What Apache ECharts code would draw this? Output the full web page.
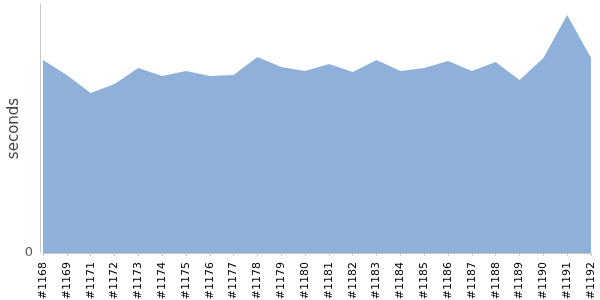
<!DOCTYPE html>
<html>
<head>
<meta charset="utf-8">
<script src="https://cdn.jsdelivr.net/npm/echarts@6/dist/echarts.min.js"></script>
<style>html,body{margin:0;padding:0;background:#fff;}#c{width:600px;height:300px;}</style>
</head>
<body>
<div id="c"></div>
<script>
const categories = ['#1168','#1169','#1171','#1172','#1173','#1174','#1175','#1176','#1177','#1178','#1179','#1180','#1181','#1182','#1183','#1184','#1185','#1186','#1187','#1188','#1189','#1190','#1191','#1192'];
const seconds = [193,178,160,169,185,177,182,177,178,196,186,182,189,181,193,182,185,192,182,191,173,195,238,195];
const yTicks = [0];

const chart = echarts.init(document.getElementById('c'), null, {renderer:'canvas'});
chart.setOption({
  animation: false,
  grid: {left: 43, right: 9, top: 4, bottom: 47, containLabel: false, outerBoundsMode: 'none'},
  xAxis: {
    type: 'category',
    data: categories,
    boundaryGap: false,
    offset: 3,
    axisLine: {lineStyle: {color: '#c8c8c8'}},
    axisTick: {show: true, length: 3, alignWithLabel: true, lineStyle: {color: '#c8c8c8'}},
    axisLabel: {interval: 0, rotate: 90, margin: 6, fontSize: 11, color: '#000', fontFamily: 'DejaVu Sans'},
    splitLine: {show: false}
  },
  yAxis: {
    type: 'value',
    min: 0,
    max: 249,
    interval: 249,
    offset: 3,
    name: 'seconds',
    nameLocation: 'middle',
    nameGap: 18,
    nameMoveOverlap: false,
    nameTextStyle: {fontSize: 15, color: '#444', fontFamily: 'DejaVu Sans'},
    axisLine: {show: true, lineStyle: {color: '#c8c8c8'}},
    axisTick: {show: false},
    splitLine: {show: false},
    axisLabel: {
      margin: 7, fontSize: 13, color: '#555', fontFamily: 'DejaVu Sans',
      formatter: v => yTicks.indexOf(v) >= 0 ? String(v) : ''
    }
  },
  series: [{
    type: 'line',
    data: seconds,
    symbol: 'none',
    lineStyle: {width: 0},
    areaStyle: {color: '#8fb1d9', opacity: 1},
    itemStyle: {color: '#8fb1d9'}
  }]
});
</script>
</body>
</html>
